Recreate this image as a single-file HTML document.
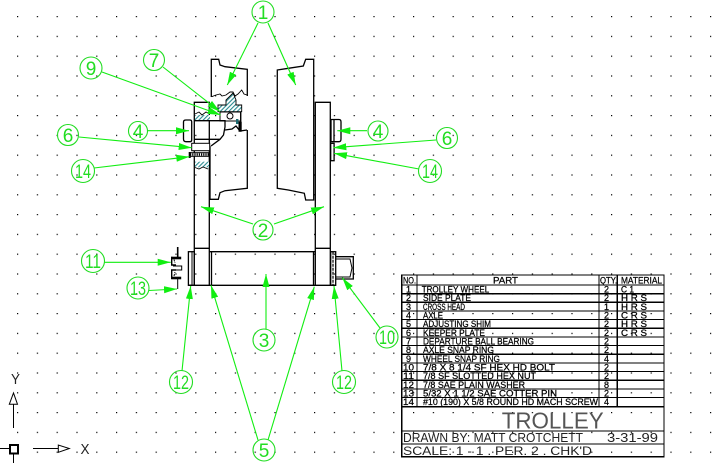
<!DOCTYPE html>
<html><head><meta charset="utf-8"><style>
html,body{margin:0;padding:0;background:#fff;width:722px;height:464px;overflow:hidden}
svg{display:block}
text{font-family:"Liberation Sans",sans-serif}
.c{fill:none;stroke:#2d2;stroke-width:1.1}
.n{fill:#2d2;font-size:19px;text-anchor:middle}
.a{stroke:#1e1;stroke-width:1.1;fill:none}
.k{fill:none;stroke:#000;stroke-width:1.3}
.t{font-size:9px;fill:#000;stroke:#000;stroke-width:.25}
</style></head><body>
<svg width="722" height="464" viewBox="0 0 722 464" xmlns="http://www.w3.org/2000/svg">
<defs>
<pattern id="d" x="17" y="16" width="19.8" height="19.8" patternUnits="userSpaceOnUse"><rect width="1.2" height="1.2" fill="#000"/></pattern>
<pattern id="h" width="3" height="3" patternUnits="userSpaceOnUse" patternTransform="rotate(45)"><rect width="3" height="3" fill="#fff"/><rect width="1.1" height="3" fill="#2a8a90"/></pattern>
<marker id="m" markerWidth="14" markerHeight="9" refX="13" refY="4" orient="auto" markerUnits="userSpaceOnUse"><path d="M0 0.5L13 4L0 7.5Z" style="fill:#1e1;stroke:none"/></marker>
</defs>
<rect width="722" height="464" fill="#fff"/>
<rect width="722" height="464" fill="url(#d)"/>

<!-- wheels -->
<path class="k" d="M211.3 97V59.3H218.7L220 65L225 66.7L247.3 69.3V96M247.3 130V188.3L225 190.7L220 192.7L218.3 199.3H210V146"/>
<path class="k" d="M277.3 70L288.3 68.3L303.3 66L305.7 59.3H313.7V200H305.7L304.3 193.3L288.3 190L277.3 188.3Z"/>
<!-- side plates -->
<path class="k" d="M315.3 285.3V102.3H330.3V285.3M315.3 248.3H330.3"/>
<path class="k" d="M194.3 285.3V102.3H209.3V285.3M194.3 248.3H209.3"/>
<!-- right bolt head, keeper -->
<path class="k" d="M331 119.5H339Q341 119.5 341 122V139Q341 141.7 339 141.7H331V119.5M334 119.5V141.7"/>
<rect class="k" x="330.7" y="143.3" width="3.4" height="17.4"/>
<!-- hub section -->
<path fill="none" stroke="#000" stroke-width=".9" d="M211.7 96.7L216 95L220 94L222 96L226 95L230 92L233 92L235 96L238 94L241.7 90L244 94L247 95"/>
<path fill="url(#h)" stroke="#000" stroke-width=".9" d="M218 111.7V105H226V100L233 93L236 100V105H241.7V111.7Z"/>
<rect x="220" y="112" width="20.7" height="9" fill="#fff" stroke="#000"/>
<circle cx="230" cy="116" r="3" fill="#fff" stroke="#000"/>
<rect x="236" y="119" width="2.4" height="5" fill="#1b6a70"/>
<rect x="238.5" y="121.7" width="3.2" height="10" fill="#000"/>
<path class="k" d="M240.7 112V122M225 130L232 129L236 126L240 131L247 130"/>
<rect x="195" y="115" width="15" height="5.7" fill="url(#h)"/>
<path stroke="#000" fill="none" stroke-width=".9" d="M195 114L199 112L202 115L206 112L210 114"/>
<path class="k" d="M194.5 120.7H225V127L223.5 135L220 139.3H194.5"/>
<path class="k" d="M220 139.3L211 146"/>
<path class="k" d="M186 120H190Q191.7 120 191.7 122V140Q191.7 141.7 190 141.7H186Q183.5 141.7 183.5 139V122Q183.5 120 186 120Z"/>
<rect x="191.7" y="143.3" width="18" height="7.4" fill="#fff" stroke="#000"/>
<rect x="190" y="152.7" width="19" height="3.6" fill="#fff" stroke="#000"/>
<path stroke="#000" stroke-dasharray="1.2 1" stroke-width="2.6" d="M190 154.5H209"/>
<rect x="188.7" y="152" width="2" height="6" fill="#000"/>
<rect x="195" y="161.7" width="14" height="5.6" fill="url(#h)"/>
<path d="M195 167.5L199 169L203 167L208 169" fill="none" stroke="#000" stroke-width=".9"/>

<!-- crosshead -->
<path class="k" d="M209.3 251.7H315.3M188.4 285.3H335.7"/>
<path class="k" d="M211.5 251.7V285.3M313.5 251.7V285.3"/>
<rect class="k" x="188.4" y="251.7" width="5.9" height="33.6"/>
<path stroke="#000" fill="none" d="M192 251.7V285.3"/>
<rect class="k" x="330.7" y="251.7" width="5" height="33.6"/>
<path stroke="#000" fill="none" stroke-width="1.2" stroke-dasharray="3 1" d="M333 251.7V285.3"/>
<!-- bolt right -->
<path class="k" d="M335.7 256.7H353.3V279H335.7"/>
<path stroke="#000" fill="none" d="M336 259H350L352 268L350 277H336"/>
<!-- nut left -->
<rect x="171.2" y="256.7" width="10" height="2.6" fill="#000"/>
<rect x="171.2" y="276.7" width="10" height="2.6" fill="#000"/>
<path stroke="#000" fill="none" stroke-width="1.4" d="M171.7 256.7V265H176M171.7 279V270H176"/>
<path stroke="#000" fill="none" d="M173 266H181.7V270H173"/>
<path stroke="#000" stroke-width="1" d="M177.7 279V289"/>
<path stroke="#000" stroke-width="1.6" d="M177.7 247V257"/>
<path stroke="#000" fill="none" stroke-dasharray="2 1" d="M174 259.5L175 263M174 276L175 272"/>

<!-- leaders -->
<path class="a" marker-end="url(#m)" d="M258 23L227.3 85"/>
<path class="a" marker-end="url(#m)" d="M268 23L295.7 85"/>
<path class="a" marker-end="url(#m)" d="M163 67L220 111.7"/>
<path class="a" marker-end="url(#m)" d="M102 72L220.7 115"/>
<path class="a" marker-end="url(#m)" d="M148 130.7H189"/>
<path class="a" marker-end="url(#m)" d="M79 137L191.7 147.7"/>
<path class="a" marker-end="url(#m)" d="M94 168L189.3 156.7"/>
<path class="a" marker-end="url(#m)" d="M367 130.7H337.3"/>
<path class="a" marker-end="url(#m)" d="M436 140L333.3 147.7"/>
<path class="a" marker-end="url(#m)" d="M419 169L334 153.3"/>
<path class="a" marker-end="url(#m)" d="M253 224L201 206.7"/>
<path class="a" marker-end="url(#m)" d="M274 224L324 206.7"/>
<path class="a" marker-end="url(#m)" d="M104 262.3H170.7"/>
<path class="a" marker-end="url(#m)" d="M149 290.5L177 289"/>
<path class="a" marker-end="url(#m)" d="M266 329V274"/>
<path class="a" marker-end="url(#m)" d="M258 440L211 285.3"/>
<path class="a" marker-end="url(#m)" d="M268 440L314.3 286.7"/>
<path class="a" marker-end="url(#m)" d="M182 371L190.7 286"/>
<path class="a" marker-end="url(#m)" d="M342 371L334 286"/>
<path class="a" marker-end="url(#m)" d="M380 328L342.3 277.7"/>

<!-- balloons -->
<g>
<circle class="c" cx="263" cy="12" r="11"/><text class="n" x="263" y="19">1</text>
<circle class="c" cx="154" cy="60" r="10.5"/><text class="n" x="154" y="67">7</text>
<circle class="c" cx="91" cy="68" r="11"/><text class="n" x="91" y="75">9</text>
<circle class="c" cx="68" cy="135" r="10.5"/><text class="n" x="68" y="142">6</text>
<circle class="c" cx="138" cy="131" r="9.5"/><text class="n" x="138" y="138">4</text>
<circle class="c" cx="83" cy="171" r="11.5"/><text class="n" x="83" y="178" textLength="16" lengthAdjust="spacingAndGlyphs">14</text>
<circle class="c" cx="378" cy="131" r="10"/><text class="n" x="378" y="138">4</text>
<circle class="c" cx="447" cy="138" r="10.5"/><text class="n" x="447" y="145">6</text>
<circle class="c" cx="430" cy="171" r="11.5"/><text class="n" x="430" y="178" textLength="16" lengthAdjust="spacingAndGlyphs">14</text>
<circle class="c" cx="263" cy="230" r="10"/><text class="n" x="263" y="237">2</text>
<circle class="c" cx="93" cy="261" r="11.5"/><text class="n" x="93" y="268" textLength="16" lengthAdjust="spacingAndGlyphs">11</text>
<circle class="c" cx="138" cy="288" r="11"/><text class="n" x="138" y="295" textLength="16" lengthAdjust="spacingAndGlyphs">13</text>
<circle class="c" cx="264" cy="340" r="11"/><text class="n" x="264" y="347">3</text>
<circle class="c" cx="387" cy="337" r="11"/><text class="n" x="387" y="344" textLength="16" lengthAdjust="spacingAndGlyphs">10</text>
<circle class="c" cx="181" cy="382" r="11.5"/><text class="n" x="181" y="389" textLength="16" lengthAdjust="spacingAndGlyphs">12</text>
<circle class="c" cx="344" cy="382" r="11.5"/><text class="n" x="344" y="389" textLength="16" lengthAdjust="spacingAndGlyphs">12</text>
<circle class="c" cx="264" cy="450" r="11"/><text class="n" x="264" y="457">5</text>
</g>

<!-- table -->
<path stroke="#000" stroke-width="1.2" fill="none" shape-rendering="crispEdges" d="M401.7 275H664V456.7H401.7ZM417 275V406.7M599 275V406.7M617.3 275V406.7
M401.7 285H664M401.7 293.7H664M401.7 302.3H664M401.7 311H664M401.7 319.6H664M401.7 328.3H664M401.7 337H664M401.7 345.6H664M401.7 354.3H664M401.7 363H664M401.7 371.6H664M401.7 380.3H664M401.7 389H664M401.7 397.6H664M401.7 406.7H664M401.7 431H664M401.7 444H664"/>
<g class="t">
<text x="403" y="283.5" textLength="13" lengthAdjust="spacingAndGlyphs">NO.</text>
<text x="493" y="283.5" textLength="25" lengthAdjust="spacingAndGlyphs">PART</text>
<text x="600" y="283.5" textLength="17" lengthAdjust="spacingAndGlyphs">QTY.</text>
<text x="621" y="283.5" textLength="41" lengthAdjust="spacingAndGlyphs">MATERIAL</text>
<text x="406" y="292.5">1</text><text x="421.7" y="292.5" textLength="67.5" lengthAdjust="spacingAndGlyphs">TROLLEY WHEEL</text><text x="604" y="292.5">2</text><text x="621" y="292.5" textLength="13" lengthAdjust="spacingAndGlyphs">C 1</text>
<text x="406" y="301">2</text><text x="423" y="301" textLength="48" lengthAdjust="spacingAndGlyphs">SIDE PLATE</text><text x="604" y="301">2</text><text x="621" y="301" textLength="26" lengthAdjust="spacingAndGlyphs">H R S</text>
<text x="406" y="310">3</text><text x="423" y="310" textLength="42" lengthAdjust="spacingAndGlyphs">CROSS HEAD</text><text x="604" y="310">1</text><text x="621" y="310" textLength="26" lengthAdjust="spacingAndGlyphs">H R S</text>
<text x="406" y="318.5">4</text><text x="423" y="318.5" textLength="20" lengthAdjust="spacingAndGlyphs">AXLE</text><text x="604" y="318.5">2</text><text x="621" y="318.5" textLength="26" lengthAdjust="spacingAndGlyphs">C R S</text>
<text x="406" y="327">5</text><text x="423" y="327" textLength="68" lengthAdjust="spacingAndGlyphs">ADJUSTING SHIM</text><text x="604" y="327">2</text><text x="621" y="327" textLength="26" lengthAdjust="spacingAndGlyphs">H R S</text>
<text x="406" y="336">6</text><text x="423" y="336" textLength="62" lengthAdjust="spacingAndGlyphs">KEEPER PLATE</text><text x="604" y="336">2</text><text x="621" y="336" textLength="26" lengthAdjust="spacingAndGlyphs">C R S</text>
<text x="406" y="344.5">7</text><text x="423" y="344.5" textLength="111" lengthAdjust="spacingAndGlyphs">DEPARTURE BALL BEARING</text><text x="604" y="344.5">2</text>
<text x="406" y="353">8</text><text x="423" y="353" textLength="71" lengthAdjust="spacingAndGlyphs">AXLE SNAP RING</text><text x="604" y="353">2</text>
<text x="406" y="362">9</text><text x="423" y="362" textLength="77" lengthAdjust="spacingAndGlyphs">WHEEL SNAP RING</text><text x="604" y="362">4</text>
<text x="403" y="370.5" textLength="11" lengthAdjust="spacingAndGlyphs">10</text><text x="423" y="370.5" textLength="132" lengthAdjust="spacingAndGlyphs">7/8 X 8 1/4 SF HEX HD BOLT</text><text x="604" y="370.5">2</text>
<text x="403" y="379" textLength="11" lengthAdjust="spacingAndGlyphs">11</text><text x="423" y="379" textLength="113" lengthAdjust="spacingAndGlyphs">7/8 SF SLOTTED HEX NUT</text><text x="604" y="379">2</text>
<text x="403" y="388" textLength="11" lengthAdjust="spacingAndGlyphs">12</text><text x="423" y="388" textLength="102" lengthAdjust="spacingAndGlyphs">7/8 SAE PLAIN WASHER</text><text x="604" y="388">8</text>
<text x="403" y="396.5" textLength="11" lengthAdjust="spacingAndGlyphs">13</text><text x="423" y="396.5" textLength="134" lengthAdjust="spacingAndGlyphs">5/32 X 1 1/2 SAE COTTER PIN</text><text x="604" y="396.5">2</text>
<text x="403" y="405" textLength="11" lengthAdjust="spacingAndGlyphs">14</text><text x="423" y="405" textLength="175" lengthAdjust="spacingAndGlyphs">#10 (190) X 5/8 ROUND HD MACH SCREW</text><text x="604" y="405">4</text>
</g>
<text x="501.7" y="428.5" font-size="23" fill="#555" textLength="102" lengthAdjust="spacingAndGlyphs">TROLLEY</text>
<text x="403" y="442" font-size="12.5" fill="#222" textLength="180" lengthAdjust="spacingAndGlyphs">DRAWN BY: MATT CROTCHETT</text>
<text x="607" y="442" font-size="12.5" fill="#222" textLength="51" lengthAdjust="spacingAndGlyphs">3-31-99</text>
<text x="403" y="455" font-size="12" fill="#222" textLength="189" lengthAdjust="spacingAndGlyphs">SCALE: 1 - 1 . PER. 2 . CHK'D</text>

<!-- UCS icon -->
<path stroke="#000" fill="none" d="M13.5 428V404.3M9.3 404.3H17.5L13.5 393ZM33 448.5H58.3M58.3 445V452.3L69.3 448.5ZM0 448.5H9M13.5 454V463"/>
<rect x="10" y="445" width="8" height="8.5" fill="none" stroke="#000" stroke-width="2"/>
<text x="15.5" y="384" font-size="15" text-anchor="middle" fill="#222" textLength="9" lengthAdjust="spacingAndGlyphs">Y</text>
<text x="85" y="454" font-size="15" text-anchor="middle" fill="#222" textLength="9" lengthAdjust="spacingAndGlyphs">X</text>
</svg>
</body></html>
